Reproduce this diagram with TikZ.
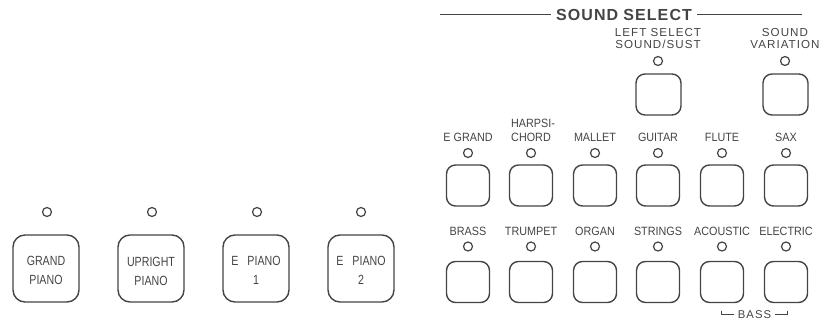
\documentclass[tikz,border=0pt]{standalone}
\usepackage{fontspec}
\setmainfont{Liberation Sans}
\newfontfamily\condfont{Liberation Sans}[FakeStretch=0.9]
\newfontfamily\narrowfont{Liberation Sans}[FakeStretch=0.8]
\newfontfamily\spacedfont{Liberation Sans}[LetterSpace=9]
\newfontfamily\titlefont{Liberation Sans}[LetterSpace=7]
\definecolor{ink}{HTML}{444444}
\tikzset{
  btn/.style={draw=ink, line width=1.4pt, rounded corners=9pt, minimum width=43pt, minimum height=41pt, inner sep=0pt},
  bigbtn/.style={draw=ink, line width=1.4pt, rounded corners=12pt, minimum width=66pt, minimum height=67pt, inner sep=0pt},
  led/.style={draw=ink, line width=1.2pt, circle, minimum size=9pt, inner sep=0pt},
  lbl/.style={text=ink, inner sep=0pt, text height=8.6pt, text depth=0pt, font=\condfont\fontsize{12}{13}\selectfont},
  toplbl/.style={text=ink, inner sep=0pt, text height=8.4pt, text depth=0pt, font=\spacedfont\fontsize{11.6}{12}\selectfont},
  biglbl/.style={text=ink, inner sep=0pt, text height=9.5pt, text depth=0pt, font=\narrowfont\fontsize{13.3}{14}\selectfont},
  titlelbl/.style={text=ink, inner xsep=5pt, inner ysep=0pt, text height=11.4pt, text depth=0pt, font=\titlefont\bfseries\fontsize{16}{17}\selectfont},
  rule/.style={draw=ink, line width=1pt}
}
\begin{document}
\begin{tikzpicture}[x=1pt,y=-1pt]
\useasboundingbox (0,0) rectangle (834,320);

% ---- left piano buttons
\node[led] (lg) at (47,212) {};
\node[led] (lu) at (152,212) {};
\node[led] (le1) at (257,212) {};
\node[led] (le2) at (361,212) {};
\node[bigbtn] (bg) at (46,268.5) {};
\node[bigbtn] (bu) at (151,268.5) {};
\node[bigbtn] (be1) at (256,268.5) {};
\node[bigbtn] (be2) at (361,268.5) {};
\node[biglbl] (tg1) at (46,260.5) {GRAND};
\node[biglbl] (tg2) at (46,279.5) {PIANO};
\node[biglbl] (tu1) at (151,262) {UPRIGHT};
\node[biglbl] (tu2) at (151,281) {PIANO};
\node[biglbl] (te11) at (256,260.5) {E\hspace{9pt}PIANO};
\node[biglbl] (te12) at (256,279.5) {1};
\node[biglbl] (te21) at (361,260.5) {E\hspace{9pt}PIANO};
\node[biglbl] (te22) at (361,279.5) {2};

% ---- title
\node[titlelbl] (title) at (624,15) {SOUND\hspace{5pt}SELECT};
\coordinate (tl) at (440,15);
\coordinate (tr) at (802,15);
\draw[rule] (tl) -- (title.west);
\draw[rule] (title.east) -- (tr);

% ---- top row
\node[toplbl] (ls1) at (658,32) {LEFT SELECT};
\node[toplbl] (ls2) at (658,44) {SOUND/SUST};
\node[led] (lls) at (658,61) {};
\node[btn, minimum width=45pt] (bls) at (658.5,94.5) {};
\node[toplbl] (sv1) at (785,32) {SOUND};
\node[toplbl] (sv2) at (785,44) {VARIATION};
\node[led] (lsv) at (785,61) {};
\node[btn, minimum width=45pt] (bsv) at (785.5,94.5) {};

% ---- row 1
\node[lbl] (n11) at (468,137) {E GRAND};
\node[lbl] (n12a) at (533,123) {HARPSI-};
\node[lbl] (n12) at (531,137) {CHORD};
\node[lbl] (n13) at (595,137) {MALLET};
\node[lbl] (n14) at (658,137) {GUITAR};
\node[lbl] (n15) at (722,137) {FLUTE};
\node[lbl] (n16) at (786,137) {SAX};
\foreach \i/\x in {1/468,2/531,3/595,4/658,5/722,6/786}{
  \node[led] (l1\i) at (\x,153) {};
  \node[btn] (b1\i) at (\x,185.5) {};
}

% ---- row 2
\node[lbl] (n21) at (468,231) {BRASS};
\node[lbl] (n22) at (531,231) {TRUMPET};
\node[lbl] (n23) at (595,231) {ORGAN};
\node[lbl] (n24) at (658,231) {STRINGS};
\node[lbl] (n25) at (722,231) {ACOUSTIC};
\node[lbl] (n26) at (786,231) {ELECTRIC};
\foreach \i/\x in {1/468,2/531,3/595,4/658,5/722,6/786}{
  \node[led] (l2\i) at (\x,246.5) {};
  \node[btn] (b2\i) at (\x,282) {};
}

% ---- bass bracket
\node[lbl, inner xsep=4pt, font=\spacedfont\fontsize{11.3}{12}\selectfont] (bass) at (754.5,314) {BASS};
\coordinate (bl0) at (721,310.5);
\coordinate (bl1) at (721,314.5);
\coordinate (br0) at (787,310.5);
\coordinate (br1) at (787,314.5);
\draw[rule] (bl0) -- (bl1) -- (bl1 -| bass.west);
\draw[rule] (br0) -- (br1) -- (br1 -| bass.east);
\end{tikzpicture}
\end{document}
